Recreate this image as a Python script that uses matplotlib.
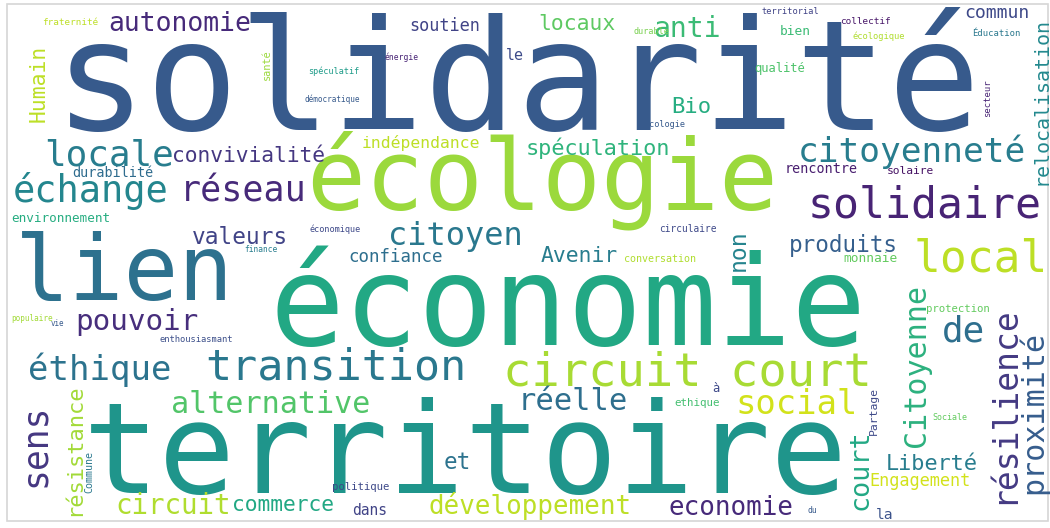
import matplotlib
matplotlib.use("Agg")
import matplotlib.pyplot as plt
from matplotlib.patches import Rectangle

# ---------------- data ----------------
words = [
    "solidarité", "économie", "territoire", "écologie", "lien",
    "circuit court", "local", "transition", "solidaire", "échange",
    "locale", "réseau", "de", "citoyenneté", "sens", "éthique",
    "citoyen", "social", "réelle", "alternative", "résilience",
    "pouvoir", "anti", "proximité", "Citoyenne", "circuit",
    "court", "autonomie", "développement", "economie", "non",
    "valeurs", "produits", "et", "résistance", "spéculation",
    "Bio", "Liberté", "locaux", "Humain", "convivialité",
    "commerce", "Avenir", "commun", "confiance", "soutien",
    "Engagement", "indépendance", "relocalisation", "le", "dans",
    "la", "durabilité", "rencontre", "qualité", "monnaie",
    "bien", "environnement", "à", "solaire", "ethique",
    "politique", "protection", "Partage", "Commune", "conversation",
    "circulaire", "fraternité", "collectif", "Éducation", "territorial",
    "santé", "secteur", "écologique", "ecologie", "spéculatif",
    "démocratique", "économique", "enthousiasmant", "énergie", "finance",
    "Sociale", "populaire", "vie", "du", "durable",
]

# relative weight of each word (largest = 1)
weights = [
    1.000, 0.805, 0.825, 0.636, 0.590,
    0.306, 0.290, 0.282, 0.281, 0.240,
    0.234, 0.227, 0.234, 0.224, 0.225, 0.221,
    0.208, 0.220, 0.198, 0.196, 0.214,
    0.190, 0.183, 0.195, 0.195, 0.179,
    0.174, 0.171, 0.168, 0.169, 0.149,
    0.148, 0.147, 0.147, 0.143, 0.142,
    0.145, 0.142, 0.139, 0.139, 0.138,
    0.138, 0.139, 0.117, 0.114, 0.110,
    0.110, 0.106, 0.130, 0.097, 0.095,
    0.094, 0.088, 0.088, 0.079, 0.084,
    0.084, 0.082, 0.078, 0.073, 0.071,
    0.069, 0.069, 0.074, 0.065, 0.065,
    0.062, 0.060, 0.061, 0.058, 0.056,
    0.067, 0.058, 0.057, 0.055, 0.055,
    0.050, 0.055, 0.057, 0.052, 0.051,
    0.054, 0.050, 0.049, 0.052, 0.055,
]

# colour of each word, as a position on the viridis scale
shades = [
    0.28, 0.60, 0.52, 0.85, 0.37,
    0.87, 0.90, 0.40, 0.10, 0.46,
    0.42, 0.12, 0.36, 0.42, 0.16, 0.38,
    0.40, 0.93, 0.36, 0.73, 0.17,
    0.13, 0.68, 0.29, 0.64, 0.88,
    0.60, 0.12, 0.90, 0.12, 0.45,
    0.20, 0.30, 0.38, 0.86, 0.65,
    0.62, 0.42, 0.75, 0.90, 0.16,
    0.60, 0.42, 0.22, 0.36, 0.20,
    0.93, 0.90, 0.47, 0.23, 0.20,
    0.25, 0.35, 0.08, 0.72, 0.76,
    0.68, 0.62, 0.22, 0.05, 0.70,
    0.22, 0.76, 0.22, 0.40, 0.88,
    0.22, 0.90, 0.06, 0.40, 0.20,
    0.85, 0.10, 0.88, 0.28, 0.55,
    0.28, 0.22, 0.24, 0.10, 0.42,
    0.76, 0.86, 0.28, 0.28, 0.80,
]

# ---------------- layout (x, y, rotation) ----------------
layout = [
    (518, 130, 0), (568, 345, 0), (465, 493, 0), (542, 210, 0), (124, 300, 0),
    (687, 385, 0), (981, 272, 0), (336, 380, 0), (925, 217, 0), (91, 202, 0),
    (109, 166, 0), (243, 202, 0), (963, 342, 0), (912, 162, 0), (45, 445, 90), (100, 380, 0),
    (455, 245, 0), (797, 414, 0), (573, 410, 0), (271, 413, 0), (1013, 405, 90),
    (137, 330, 0), (687, 37, 0), (1042, 412, 90), (925, 365, 90), (173, 514, 0),
    (867, 470, 90), (180, 31, 0), (530, 514, 0), (731, 515, 0), (745, 250, 90),
    (240, 244, 0), (843, 252, 0), (457, 469, 0), (80, 450, 90), (598, 155, 0),
    (691, 113, 0), (932, 470, 0), (577, 30, 0), (45, 83, 90), (249, 162, 0),
    (283, 511, 0), (579, 262, 0), (997, 18, 0), (396, 262, 0), (445, 31, 0),
    (920, 486, 0), (421, 148, 0), (1046, 101, 90), (515, 60, 0), (370, 515, 0),
    (885, 519, 0), (113, 177, 0), (821, 173, 0), (780, 72, 0), (870, 262, 0),
    (795, 35, 0), (61, 222, 0), (716, 392, 0), (910, 174, 0), (697, 406, 0),
    (361, 490, 0), (958, 312, 0), (877, 411, 90), (92, 472, 90), (660, 262, 0),
    (688, 232, 0), (70, 25, 0), (865, 24, 0), (996, 36, 0), (790, 14, 0),
    (270, 65, 90), (990, 98, 90), (879, 39, 0), (665, 127, 0), (334, 74, 0),
    (332, 102, 0), (335, 232, 0), (196, 342, 0), (402, 60, 0), (261, 252, 0),
    (950, 420, 0), (32, 321, 0), (57, 326, 0), (812, 513, 0), (651, 34, 0),
]

BIGGEST_PX = 154          # pixel size of the largest word
PX_TO_PT = 72 / 100       # figure is drawn at 100 dpi

fig = plt.figure(figsize=(10.5, 5.28), dpi=100)
ax = fig.add_axes([0, 0, 1, 1])
ax.set_xlim(0, 1050)
ax.set_ylim(528, 0)
ax.axis("off")

ax.add_patch(Rectangle((7, 4), 1041, 517, fill=False, edgecolor="#d6d6d6",
                       linewidth=1.2))

cmap = plt.get_cmap("viridis")
for word, w, s, (x, y, rot) in zip(words, weights, shades, layout):
    ax.text(x, y, word, fontsize=w * BIGGEST_PX * PX_TO_PT,
            family="DejaVu Sans Mono", color=cmap(s),
            ha="center", va="baseline", rotation=rot,
            rotation_mode="anchor")

fig.savefig("out.png", dpi=100, facecolor="white")
